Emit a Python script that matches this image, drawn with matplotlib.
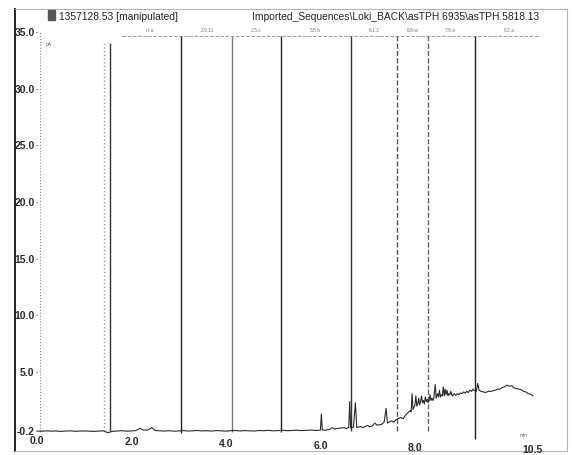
import matplotlib
matplotlib.use("Agg")
import matplotlib.pyplot as plt

plt.rcParams['font.family'] = ['Liberation Sans', 'DejaVu Sans']

# detector trace (retention time in min, signal in pA)
rt = [0.00, 0.10, 0.20, 0.30, 0.40, 0.50, 0.60, 0.70, 0.80, 0.90,
      1.00, 1.10, 1.20, 1.30, 1.40, 1.50, 1.60, 1.70, 1.80, 1.90,
      2.00, 2.10, 2.18, 2.25, 2.35, 2.43, 2.50, 2.60, 2.70, 2.80,
      2.90, 3.00, 3.10, 3.20, 3.30, 3.40, 3.50, 3.60, 3.70, 3.80,
      3.90, 4.00, 4.10, 4.20, 4.30, 4.40, 4.50, 4.60, 4.70, 4.80,
      4.90, 5.00, 5.10, 5.20, 5.30, 5.40, 5.50, 5.60, 5.70, 5.80,
      5.90, 6.00, 6.02, 6.04, 6.10, 6.20, 6.25, 6.30, 6.40, 6.50,
      6.55, 6.60, 6.62, 6.64, 6.70, 6.74, 6.77, 6.85, 6.90, 7.00,
      7.05, 7.10, 7.15, 7.20, 7.30, 7.35, 7.39, 7.42, 7.50, 7.55,
      7.60, 7.70, 7.75, 7.80, 7.85, 7.90, 7.92, 7.94, 7.96, 7.98,
      8.00, 8.02, 8.04, 8.06, 8.08, 8.10, 8.12, 8.14, 8.16, 8.18,
      8.20, 8.22, 8.24, 8.26, 8.28, 8.30, 8.32, 8.34, 8.36, 8.38,
      8.40, 8.43, 8.45, 8.48, 8.50, 8.52, 8.54, 8.56, 8.58, 8.60,
      8.62, 8.64, 8.66, 8.68, 8.70, 8.72, 8.74, 8.76, 8.78, 8.80,
      8.83, 8.86, 8.90, 8.93, 8.96, 9.00, 9.03, 9.06, 9.10, 9.13,
      9.16, 9.20, 9.23, 9.25, 9.30, 9.33, 9.36, 9.40, 9.45, 9.50,
      9.55, 9.60, 9.65, 9.70, 9.75, 9.80, 9.85, 9.90, 9.95, 10.00,
      10.05, 10.10, 10.15, 10.20, 10.25, 10.30, 10.35, 10.40, 10.45, 10.50]
signal = [-0.20, -0.22, -0.18, -0.21, -0.19, -0.23, -0.20, -0.18, -0.22, -0.20,
          -0.19, -0.21, -0.23, -0.20, -0.18, -0.35, -0.22, -0.20, -0.17, -0.21,
          -0.19, -0.15, 0.05, -0.12, -0.10, 0.10, -0.15, -0.18, -0.20, -0.17,
          -0.21, -0.19, -0.16, -0.20, -0.18, -0.15, -0.19, -0.17, -0.20, -0.16,
          -0.18, -0.21, -0.17, -0.15, -0.19, -0.16, -0.18, -0.20, -0.15, -0.17,
          -0.14, -0.18, -0.16, -0.13, -0.17, -0.15, -0.12, -0.16, -0.14, -0.11,
          -0.15, -0.12, 1.30, -0.10, -0.13, -0.05, 0.10, -0.02, 0.05, 0.10,
          0.02, 0.12, 2.40, 0.08, 0.15, 2.30, 0.12, 0.20, 0.10, 0.30,
          0.18, 0.25, 0.50, 0.32, 0.40, 0.60, 1.80, 0.50, 0.70, 0.58,
          0.80, 1.00, 0.88, 1.20, 1.40, 1.60, 1.50, 3.10, 1.70, 1.90,
          2.10, 2.90, 2.00, 2.20, 2.70, 2.10, 2.40, 2.90, 2.30, 2.50,
          2.20, 2.80, 2.40, 2.60, 2.30, 2.50, 3.00, 2.50, 2.70, 2.50,
          2.70, 3.90, 2.70, 3.10, 2.80, 3.40, 2.80, 3.00, 2.90, 3.70,
          2.90, 3.50, 3.00, 3.40, 2.90, 3.10, 3.00, 3.30, 3.00, 2.90,
          3.10, 2.95, 3.10, 3.00, 3.15, 3.10, 3.25, 3.15, 3.30, 3.20,
          3.40, 3.30, 3.50, 3.40, 3.30, 4.00, 3.40, 3.30, 3.25, 3.20,
          3.30, 3.30, 3.35, 3.40, 3.50, 3.50, 3.65, 3.70, 3.85, 3.75,
          3.80, 3.60, 3.55, 3.50, 3.45, 3.30, 3.25, 3.10, 3.05, 2.90]

# integration window markers
marker_rt = [1.42, 1.55, 3.05, 4.13, 5.17, 6.65, 7.62, 8.28, 9.27]
marker_top = [34.0, 34.0, 34.65, 34.65, 34.65, 34.65, 34.65, 34.65, 34.65]
marker_bottom = [-0.2, -0.2, -0.4, -0.3, -0.3, -0.2, -0.2, -0.2, -0.9]
marker_style = ['dotted', 'solid', 'solid', 'solid', 'solid', 'solid',
                'dashed', 'dashed', 'solid']
marker_color = ['#9a9a9a', '#333333', '#222222', '#777777', '#222222',
                '#333333', '#555555', '#666666', '#222222']

window_mid = [2.38, 3.60, 4.65, 5.89, 7.15, 7.96, 8.74, 10.0]
window_labels = ['r.r.a', '2.9.11', '2.5.c', '5.5.b', '6.1.2', '6.8.w', '7.9.a', '8.2.a']

xticks = [0.0, 2.0, 4.0, 6.0, 8.0, 10.5]
xtick_labels = ['0.0', '2.0', '4.0', '6.0', '8.0', '10.5']
yticks = [35.0, 30.0, 25.0, 20.0, 15.0, 10.0, 5.0, -0.2]
ytick_labels = ['35.0', '30.0', '25.0', '20.0', '15.0', '10.0', '5.0', '-0.2']

W, H = 573, 456
fig = plt.figure(figsize=(W / 100, H / 100), dpi=100)
ax = fig.add_axes([15 / W, 1 - 452 / H, 552 / W, 442 / H])
ax.set_xlim(-0.466, 11.22)
ax.set_ylim(-1.96, 37.03)
ax.set_xticks([])
ax.set_yticks([])
for side in ['top', 'right', 'bottom']:
    ax.spines[side].set_color('#b5b5b5')
    ax.spines[side].set_linewidth(0.8)
ax.spines['left'].set_color('#222222')
ax.spines['left'].set_linewidth(1.4)

# dotted y axis
ax.vlines(0.06, -0.2, 35.0, colors='#888888', linestyles='dotted', linewidth=0.8)

# window markers and header line
ax.hlines(34.65, 1.80, 10.6, colors='#999999', linestyles='dashed', linewidth=0.7)
for x, t, b, ls, c in zip(marker_rt, marker_top, marker_bottom, marker_style, marker_color):
    ax.vlines(x, b, t, colors=c, linestyles=ls, linewidth=1.0)
for x, lab in zip(window_mid, window_labels):
    ax.text(x, 35.25, lab, fontsize=3.5, color='#777777', ha='center', va='center')

ax.plot(rt, signal, color='#2a2a2a', linewidth=0.8)

# axis labels sit inside the frame
for y, lab in zip(yticks, ytick_labels):
    ax.text(-0.05, y, lab, fontsize=7.5, fontweight='bold', color='#2a2a2a',
            ha='right', va='center')
    ax.plot([-0.03, 0.01], [y, y], color='#888888', linewidth=0.6)
# the x labels follow the slight slope of the bottom edge
for x, lab in zip(xticks, xtick_labels):
    ax.text(x, -0.95 - 0.08 * x, lab, fontsize=7.5, fontweight='bold',
            color='#2a2a2a', ha='center', va='center')
ax.text(0.25, 34.0, 'pA', fontsize=3.5, color='#555555', ha='center', va='center')
ax.text(10.3, -0.5, 'min', fontsize=3.5, color='#555555', ha='center', va='center')

# header
fig.patches.append(plt.Rectangle((48 / W, 1 - 21 / H), 7 / W, 10 / H,
                                 transform=fig.transFigure, color='#555555'))
fig.text(59 / W, 1 - 17 / H, '1357128.53 [manipulated]', fontsize=7.4,
         color='#222222', va='center')
fig.text(252 / W, 1 - 17 / H,
         'Imported_Sequences\\Loki_BACK\\asTPH 6935\\asTPH.5818.13',
         fontsize=7.4, color='#222222', va='center')

fig.savefig('out.png', dpi=100)
